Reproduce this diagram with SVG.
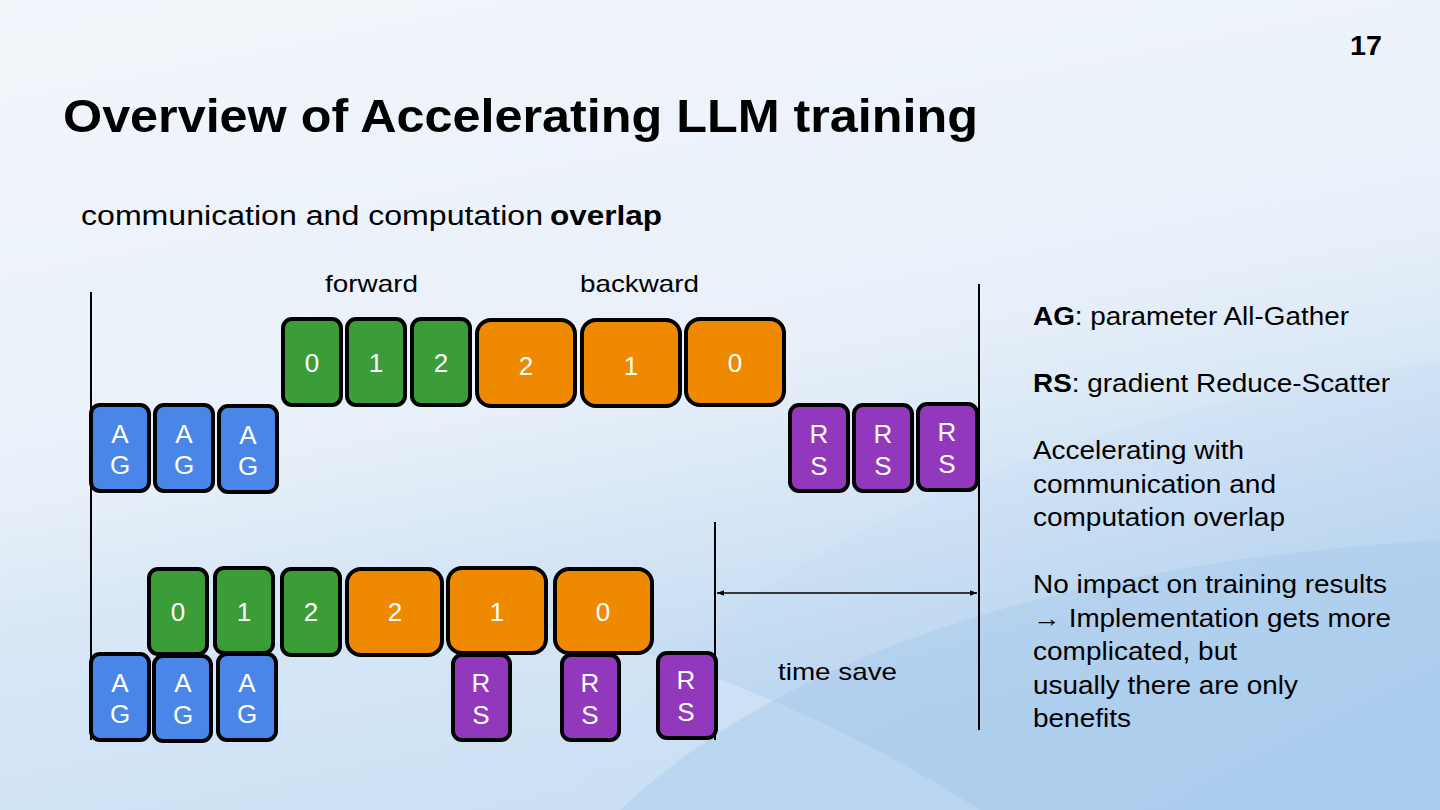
<svg xmlns="http://www.w3.org/2000/svg" width="1440" height="810" viewBox="0 0 1440 810">
<defs>
<linearGradient id="bg" x1="0" y1="0" x2="0.35" y2="1">
<stop offset="0" stop-color="#f3f6fb"/>
<stop offset="0.55" stop-color="#e8f0f9"/>
<stop offset="1" stop-color="#b9d5f0"/>
</linearGradient>
<linearGradient id="sw1" x1="0" y1="0" x2="1" y2="1">
<stop offset="0" stop-color="#cfe1f4" stop-opacity="0"/>
<stop offset="1" stop-color="#9cc3ea" stop-opacity="0.8"/>
</linearGradient>
<marker id="ah" viewBox="0 0 10 10" refX="10" refY="5" markerWidth="10" markerHeight="7" markerUnits="userSpaceOnUse" orient="auto-start-reverse">
<path d="M0,1 L10,5 L0,9 z" fill="#000"/>
</marker>
<style>
.box{stroke:#000;stroke-width:4}
.ag{fill:#4a86e8}
.fw{fill:#3b9d37}
.bw{fill:#ef8a00}
.rs{fill:#9238bd}
.lbl{font-family:"Liberation Sans",Arial,sans-serif;font-size:26px;fill:#fff;text-anchor:middle}
.txt{font-family:"Liberation Sans",Arial,sans-serif;fill:#000}
.line{stroke:#000;stroke-width:2;fill:none}
</style>
</defs>
<rect width="1440" height="810" fill="url(#bg)"/>
<path d="M560,810 C700,560 1000,430 1440,360 L1440,810 Z" fill="url(#sw1)" opacity="0.55"/>
<path d="M0,620 C300,560 650,600 980,810 L0,810 Z" fill="#d9e7f6" opacity="0.6"/>
<path d="M620,810 C800,640 1100,560 1440,540 L1440,810 Z" fill="#a7c9ec" opacity="0.45"/>

<text class="txt" x="1350" y="55" font-size="27" font-weight="bold" textLength="32" lengthAdjust="spacingAndGlyphs">17</text>
<text class="txt" x="63" y="132" font-size="46" font-weight="bold" textLength="915" lengthAdjust="spacingAndGlyphs">Overview of Accelerating LLM training</text>
<text class="txt" x="81" y="225" font-size="27" textLength="462" lengthAdjust="spacingAndGlyphs">communication and computation</text>
<text class="txt" x="550" y="225" font-size="27" font-weight="bold" textLength="112" lengthAdjust="spacingAndGlyphs">overlap</text>
<text class="txt" x="325" y="292" font-size="24" textLength="93" lengthAdjust="spacingAndGlyphs">forward</text>
<text class="txt" x="580" y="292" font-size="24" textLength="119" lengthAdjust="spacingAndGlyphs">backward</text>
<text class="txt" x="778" y="680" font-size="24" textLength="119" lengthAdjust="spacingAndGlyphs">time save</text>

<g class="txt" font-size="25">
<text x="1033" y="325" textLength="316" lengthAdjust="spacingAndGlyphs"><tspan font-weight="bold">AG</tspan>: parameter All-Gather</text>
<text x="1033" y="392" textLength="357" lengthAdjust="spacingAndGlyphs"><tspan font-weight="bold">RS</tspan>: gradient Reduce-Scatter</text>
<text x="1033" y="459" textLength="211" lengthAdjust="spacingAndGlyphs">Accelerating with</text>
<text x="1033" y="493" textLength="243" lengthAdjust="spacingAndGlyphs">communication and</text>
<text x="1033" y="526" textLength="252" lengthAdjust="spacingAndGlyphs">computation overlap</text>
<text x="1033" y="593" textLength="354" lengthAdjust="spacingAndGlyphs">No impact on training results</text>
<text x="1033" y="627" textLength="358" lengthAdjust="spacingAndGlyphs">→ Implementation gets more</text>
<text x="1033" y="660" textLength="204" lengthAdjust="spacingAndGlyphs">complicated, but</text>
<text x="1033" y="694" textLength="265" lengthAdjust="spacingAndGlyphs">usually there are only</text>
<text x="1033" y="727" textLength="98" lengthAdjust="spacingAndGlyphs">benefits</text>
</g>

<g id="connectors">
<line class="line" x1="91" y1="292" x2="91" y2="740"/>
<line class="line" x1="979" y1="284" x2="979" y2="730"/>
<line class="line" x1="715" y1="522" x2="715" y2="740"/>
<line x1="717" y1="593" x2="977" y2="593" stroke="#000" stroke-width="1.5" marker-start="url(#ah)" marker-end="url(#ah)"/>
</g>

<!-- top row -->
<g id="t-ag1"><rect class="box ag" x="91" y="405" width="58" height="86" rx="9"/><text class="lbl" x="120" y="443">A</text><text class="lbl" x="120" y="474">G</text></g>
<g id="t-ag2"><rect class="box ag" x="155" y="405" width="58" height="86" rx="9"/><text class="lbl" x="184" y="443">A</text><text class="lbl" x="184" y="474">G</text></g>
<g id="t-ag3"><rect class="box ag" x="219" y="406" width="58" height="86" rx="9"/><text class="lbl" x="248" y="444">A</text><text class="lbl" x="248" y="475">G</text></g>
<g id="t-f0"><rect class="box fw" x="283" y="319" width="58" height="86" rx="9"/><text class="lbl" x="312" y="372">0</text></g>
<g id="t-f1"><rect class="box fw" x="347" y="319" width="58" height="86" rx="9"/><text class="lbl" x="376" y="372">1</text></g>
<g id="t-f2"><rect class="box fw" x="412" y="319" width="58" height="86" rx="9"/><text class="lbl" x="441" y="372">2</text></g>
<g id="t-b2"><rect class="box bw" x="477" y="320" width="98" height="86" rx="14"/><text class="lbl" x="526" y="375">2</text></g>
<g id="t-b1"><rect class="box bw" x="582" y="320" width="98" height="86" rx="14"/><text class="lbl" x="631" y="375">1</text></g>
<g id="t-b0"><rect class="box bw" x="686" y="319" width="98" height="86" rx="14"/><text class="lbl" x="735" y="372">0</text></g>
<g id="t-rs1"><rect class="box rs" x="790" y="405" width="58" height="86" rx="9"/><text class="lbl" x="819" y="443">R</text><text class="lbl" x="819" y="475">S</text></g>
<g id="t-rs2"><rect class="box rs" x="854" y="405" width="58" height="86" rx="9"/><text class="lbl" x="883" y="443">R</text><text class="lbl" x="883" y="475">S</text></g>
<g id="t-rs3"><rect class="box rs" x="918" y="404" width="59" height="86" rx="9"/><text class="lbl" x="947" y="441">R</text><text class="lbl" x="947" y="473">S</text></g>

<!-- bottom row -->
<g id="b-f0"><rect class="box fw" x="149" y="569" width="58" height="85" rx="9"/><text class="lbl" x="178" y="621">0</text></g>
<g id="b-f1"><rect class="box fw" x="215" y="568" width="58" height="85" rx="9"/><text class="lbl" x="244" y="621">1</text></g>
<g id="b-f2"><rect class="box fw" x="282" y="569" width="58" height="86" rx="9"/><text class="lbl" x="311" y="621">2</text></g>
<g id="b-b2"><rect class="box bw" x="347" y="569" width="95" height="86" rx="14"/><text class="lbl" x="395" y="621">2</text></g>
<g id="b-b1"><rect class="box bw" x="448" y="568" width="98" height="85" rx="14"/><text class="lbl" x="497" y="621">1</text></g>
<g id="b-b0"><rect class="box bw" x="555" y="569" width="97" height="84" rx="14"/><text class="lbl" x="603" y="621">0</text></g>
<g id="b-ag1"><rect class="box ag" x="91" y="654" width="58" height="86" rx="9"/><text class="lbl" x="120" y="692">A</text><text class="lbl" x="120" y="723">G</text></g>
<g id="b-ag2"><rect class="box ag" x="154" y="656" width="57" height="85" rx="9"/><text class="lbl" x="183" y="692">A</text><text class="lbl" x="183" y="724">G</text></g>
<g id="b-ag3"><rect class="box ag" x="218" y="654" width="58" height="86" rx="9"/><text class="lbl" x="247" y="692">A</text><text class="lbl" x="247" y="723">G</text></g>
<g id="b-rs1"><rect class="box rs" x="453" y="655" width="57" height="85" rx="9"/><text class="lbl" x="481" y="692">R</text><text class="lbl" x="481" y="724">S</text></g>
<g id="b-rs2"><rect class="box rs" x="562" y="655" width="57" height="85" rx="9"/><text class="lbl" x="590" y="692">R</text><text class="lbl" x="590" y="724">S</text></g>
<g id="b-rs3"><rect class="box rs" x="658" y="653" width="58" height="85" rx="9"/><text class="lbl" x="686" y="689">R</text><text class="lbl" x="686" y="721">S</text></g>
</svg>
